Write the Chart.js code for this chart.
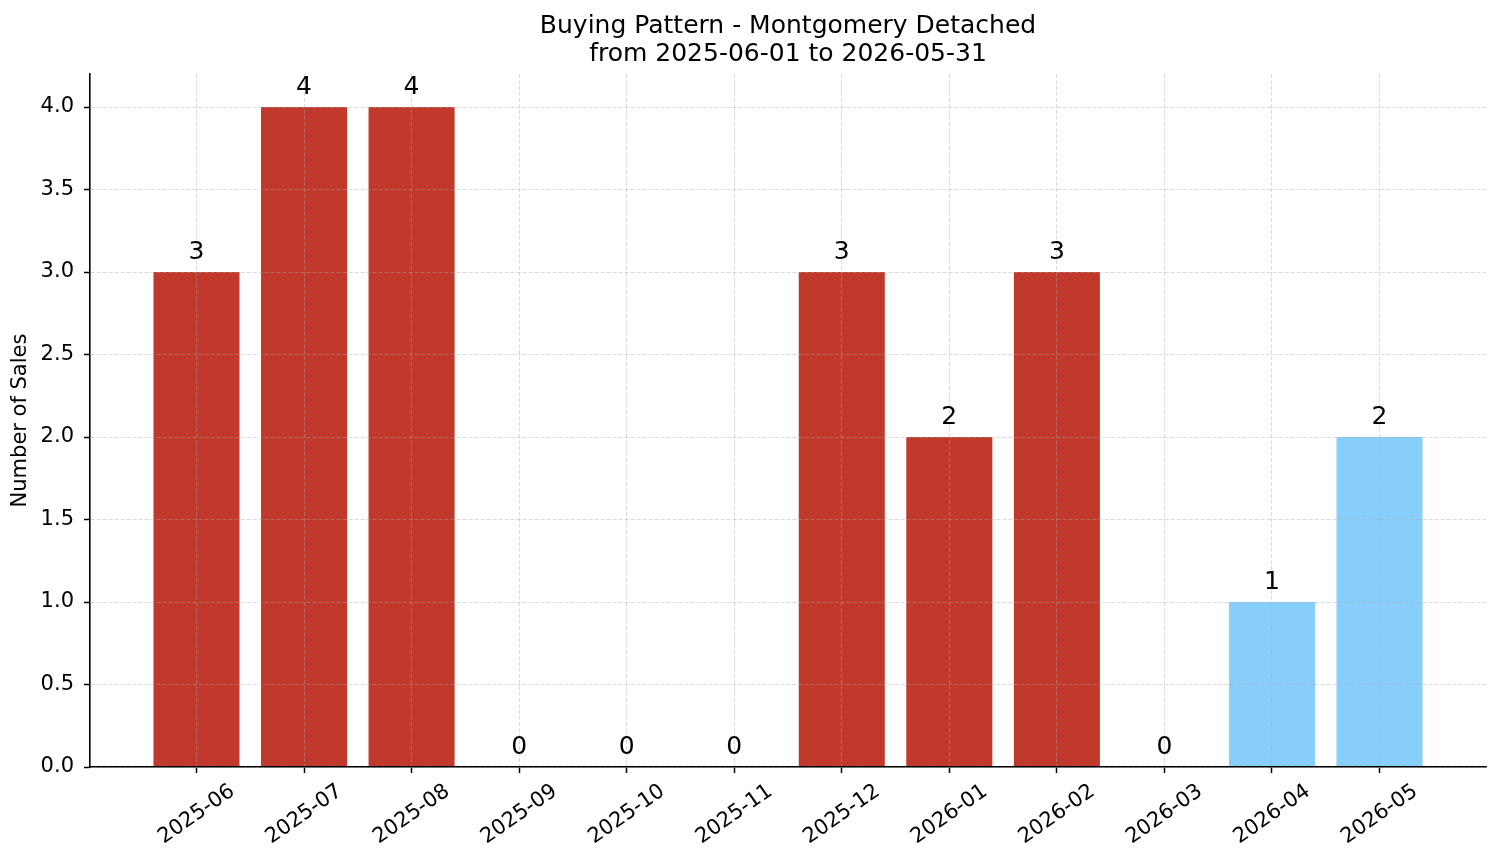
<!DOCTYPE html>
<html>
<head>
<meta charset="utf-8">
<title>Buying Pattern - Montgomery Detached</title>
<script src="https://cdn.jsdelivr.net/npm/chart.js@4.4.1/dist/chart.umd.min.js"></script>
<style>
  body { margin: 0; background: #ffffff; }
  canvas { display: block; }
</style>
</head>
<body>
<canvas id="chartjs-0" width="1501" height="863"></canvas>
<script>
// data
var months = ["2025-06", "2025-07", "2025-08", "2025-09", "2025-10", "2025-11",
              "2025-12", "2026-01", "2026-02", "2026-03", "2026-04", "2026-05"];
var sales = [3, 4, 4, 0, 0, 0, 3, 2, 3, 0, 1, 2];
var projected = [false, false, false, false, false, false,
                 false, false, false, false, true, true];
var yTicks = [0, 0.5, 1, 1.5, 2, 2.5, 3, 3.5, 4];
var titleLines = ["Buying Pattern - Montgomery Detached", "from 2025-06-01 to 2026-05-31"];
var yLabel = "Number of Sales";

var FONT = "'DejaVu Sans', sans-serif";
var RED = "#c0392b";
var BLUE = "#87cefa";
var GRID = "rgba(170, 170, 170, 0.55)";

var points = [];
var colors = [];
for (var i = 0; i < sales.length; i++) {
    points.push({ x: i, y: sales[i] });
    colors.push(projected[i] ? BLUE : RED);
}

// value labels over each bar
var barLabels = {
    id: "barLabels",
    afterDraw: function(chart) {
        var ctx = chart.ctx;
        var meta = chart.getDatasetMeta(0);
        ctx.save();
        ctx.font = "25px " + FONT;
        ctx.fillStyle = "#000";
        ctx.textAlign = "center";
        ctx.textBaseline = "alphabetic";
        meta.data.forEach(function(bar, idx) {
            ctx.fillText(String(sales[idx]), bar.x, bar.y - 13);
        });
        ctx.restore();
    }
};

var ctx0 = document.getElementById("chartjs-0");
var myChart = new Chart(ctx0, {
    type: "bar",
    data: {
        datasets: [{
            label: "Sales",
            data: points,
            backgroundColor: colors,
            borderWidth: 0,
            barPercentage: 0.8,
            categoryPercentage: 1.0
        }]
    },
    options: {
        responsive: false,
        animation: false,
        layout: { padding: { left: 0, right: 15, top: 0, bottom: 0 } },
        plugins: {
            legend: { display: false },
            tooltip: { enabled: false },
            title: {
                display: true,
                text: titleLines,
                fullSize: false,
                color: "#000",
                font: { family: FONT, size: 25, weight: "normal", lineHeight: 1.12 },
                padding: { top: 12, bottom: 6 }
            }
        },
        scales: {
            x: {
                type: "linear",
                min: -0.99,
                max: 11.99,
                offset: false,
                z: 2,
                afterBuildTicks: function(scale) {
                    scale.ticks = months.map(function(m, i) { return { value: i }; });
                },
                afterFit: function(scale) { scale.height = 96; },
                ticks: {
                    autoSkip: false,
                    minRotation: 35,
                    maxRotation: 35,
                    labelOffset: 36,
                    padding: 6,
                    color: "#000",
                    font: { family: FONT, size: 21 },
                    callback: function(value) { return months[value]; }
                },
                grid: {
                    offset: false,
                    z: 1,
                    color: GRID,
                    lineWidth: 0.8,
                    tickColor: "#000",
                    tickLength: 6,
                    tickWidth: 1.5,
                    tickBorderDash: [10, 0]
                },
                border: { display: true, z: 2, color: "#000", width: 1.6, dash: [4, 2] }
            },
            y: {
                min: 0,
                max: 4.2,
                z: 2,
                afterBuildTicks: function(scale) {
                    scale.ticks = yTicks.map(function(v) { return { value: v }; });
                },
                afterFit: function(scale) { scale.width = 90; },
                ticks: {
                    padding: 10,
                    color: "#000",
                    font: { family: FONT, size: 21 },
                    callback: function(value) { return Number(value).toFixed(1); }
                },
                grid: {
                    z: 1,
                    color: GRID,
                    lineWidth: 0.8,
                    tickColor: "#000",
                    tickLength: 6,
                    tickWidth: 1.5,
                    tickBorderDash: [10, 0]
                },
                border: { display: true, z: 2, color: "#000", width: 1.6, dash: [4, 2] },
                title: {
                    display: true,
                    text: yLabel,
                    color: "#000",
                    font: { family: FONT, size: 21 },
                    padding: { top: 8, bottom: 0 }
                }
            }
        }
    },
    plugins: [barLabels]
});
</script>
</body>
</html>
